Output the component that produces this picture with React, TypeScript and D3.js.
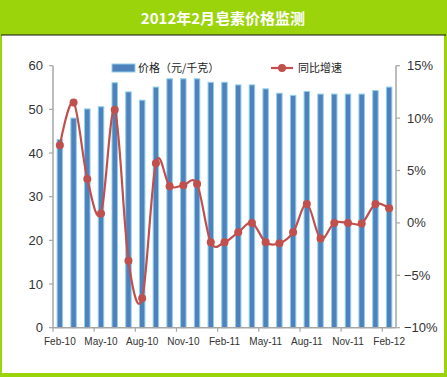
import React from "react";
import * as d3 from "d3";

const categories = [
  "Feb-10","Mar-10","Apr-10","May-10","Jun-10","Jul-10","Aug-10","Sep-10","Oct-10","Nov-10","Dec-10","Jan-11",
  "Feb-11","Mar-11","Apr-11","May-11","Jun-11","Jul-11","Aug-11","Sep-11","Oct-11","Nov-11","Dec-11","Jan-12","Feb-12",
];
const priceValues = [43.1, 48, 50.1, 50.6, 56.1, 54, 52.1, 55.1, 57, 57, 57, 56.2, 56.2, 55.6, 55.6, 54.7, 53.7, 53.2, 54.1, 53.5, 53.5, 53.5, 53.5, 54.3, 55.1];
const yoyValues = [7.4, 11.5, 4.2, 0.9, 10.8, -3.6, -7.2, 5.7, 3.5, 3.6, 3.7, -1.85, -1.85, -0.9, 0, -1.85, -1.95, -0.9, 1.8, -1.5, 0, 0, -0.05, 1.8, 1.4];
const leftTicks = [0, 10, 20, 30, 40, 50, 60];
const rightTicks = [-10, -5, 0, 5, 10, 15];
const xLabelCategories = ["Feb-10","May-10","Aug-10","Nov-10","Feb-11","May-11","Aug-11","Nov-11","Feb-12"];
const title = "2012年2月皂素价格监测";
const seriesNames = ["价格（元/千克）", "同比增速"];

const W = 447, H = 377;
const L = 53, R = 396, T = 65.7, B = 327.7;
const GREEN = "#9cd40c";
const AXIS = "#a6a6a6";
const TXT = "#333";

export default function App() {
  const x = d3.scaleBand<string>().domain(categories).range([L, R]).paddingInner(0.6).paddingOuter(0.3);
  const step = x.step();
  const yL = d3.scaleLinear().domain([0, 60]).range([B, T]);
  const yR = d3.scaleLinear().domain([-10, 15]).range([B, T]);
  const cx = (c: string) => (x(c) as number) + x.bandwidth() / 2;
  const line = d3.line<number>()
    .x((_, i) => cx(categories[i]))
    .y((d) => yR(d))
    .curve(d3.curveCardinal.tension(0));
  const fmtPct = (v: number) => (v < 0 ? "−" + Math.abs(v) : String(v)) + "%";
  const xTickIdx = d3.range(0, categories.length + 1, 3);

  return (
    <svg width={W} height={H} style={{ position: "absolute", left: 0, top: 0 }}
      fontFamily="'Liberation Sans', Arial, sans-serif">
      <rect x={0} y={0} width={W} height={H} fill={GREEN} />
      <rect x={2} y={35} width={442} height={338} fill="#fff" />
      <line x1={1} x2={446} y1={35} y2={35} stroke="#111" strokeWidth={1.2} />
      <text x={223} y={24} textAnchor="middle" fill="#fff" fontSize={15} fontWeight="bold"
        fontFamily="'Noto Sans CJK SC', sans-serif">{title}</text>

      {/* bars */}
      {categories.map((c, i) => (
        <rect key={c} x={x(c)} y={yL(priceValues[i])} width={x.bandwidth()} height={B - yL(priceValues[i])}
          fill="#4f81bd" stroke="#8fd0ea" strokeWidth={1} />
      ))}

      {/* axes */}
      <line x1={L} x2={L} y1={T} y2={B} stroke={AXIS} strokeWidth={1.5} />
      <line x1={R} x2={R} y1={T} y2={B} stroke={AXIS} strokeWidth={1.5} />
      <line x1={L} x2={R} y1={B} y2={B} stroke={AXIS} strokeWidth={1.5} />
      {leftTicks.map((t) => (
        <g key={"l" + t}>
          <line x1={L - 4} x2={L} y1={yL(t)} y2={yL(t)} stroke={AXIS} strokeWidth={1.2} />
          <text x={43} y={yL(t) + 4.5} textAnchor="end" fontSize={13} fill={TXT}>{t}</text>
        </g>
      ))}
      {rightTicks.map((t) => (
        <g key={"r" + t}>
          <line x1={R} x2={R + 4} y1={yR(t)} y2={yR(t)} stroke={AXIS} strokeWidth={1.2} />
          <text x={t < 0 ? 404 : 407} y={yR(t) + 4.5} textAnchor="start" fontSize={13} fill={TXT}>{fmtPct(t)}</text>
        </g>
      ))}
      {xTickIdx.map((i) => (
        <line key={"xt" + i} x1={L + i * step * 1} x2={L + i * step} y1={B} y2={B + 4} stroke={AXIS} strokeWidth={1.2} />
      ))}
      {xLabelCategories.map((c) => (
        <text key={"xl" + c} x={cx(c)} y={345} textAnchor="middle" fontSize={10} fill={TXT}>{c}</text>
      ))}

      {/* line */}
      <path d={line(yoyValues) || ""} fill="none" stroke="#c0504d" strokeWidth={2.2} />
      {yoyValues.map((v, i) => (
        <circle key={"p" + i} cx={cx(categories[i])} cy={yR(v)} r={4} fill="#c0504d" />
      ))}

      {/* legend */}
      <rect x={112} y={64} width={23} height={8} fill="#4f81bd" stroke="#8fd0ea" strokeWidth={1} />
      <text x={138} y={72} fontSize={11} fill="#222" fontFamily="'Noto Sans CJK SC', sans-serif">{seriesNames[0]}</text>
      <line x1={271} x2={293} y1={68} y2={68} stroke="#c0504d" strokeWidth={2.2} />
      <circle cx={282} cy={68} r={4} fill="#c0504d" />
      <text x={298} y={72} fontSize={11} fill="#222" fontFamily="'Noto Sans CJK SC', sans-serif">{seriesNames[1]}</text>
    </svg>
  );
}
